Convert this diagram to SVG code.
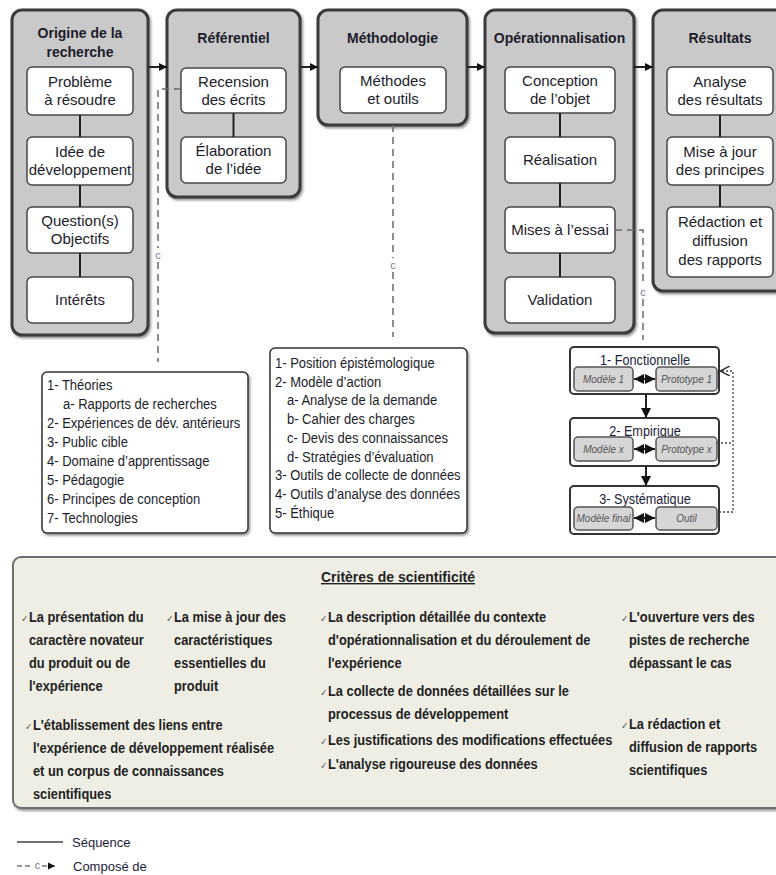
<svg xmlns="http://www.w3.org/2000/svg" width="776" height="875" viewBox="0 0 776 875">
<style>
.t{font-family:"Liberation Sans",Arial,sans-serif;fill:#1c1c2a}
.h{font-size:14px;font-weight:bold;text-anchor:middle}
.b{font-size:15px;text-anchor:middle}
.outer{fill:#c9c9c9;stroke:#3a3a3a;stroke-width:3}
.inner{fill:#fff;stroke:#474747;stroke-width:1.5}
.seq{stroke:#222;stroke-width:2;fill:none}
.comp{stroke:#6a6a6a;stroke-width:1.5;stroke-dasharray:7 5;fill:none}
.c{font-family:"Liberation Sans",Arial,sans-serif;font-size:11px;fill:#77779a;text-anchor:middle}
.list{fill:#fff;stroke:#333;stroke-width:1.5}
.lt{font-family:"Liberation Sans",Arial,sans-serif;font-size:15.3px;fill:#1c1c2a}
.rg{fill:#fff;stroke:#333;stroke-width:2}
.ri{fill:#d6d6d6;stroke:#555;stroke-width:1.5}
.rl{font-family:"Liberation Sans",Arial,sans-serif;font-size:10px;font-style:italic;fill:#555;text-anchor:middle}
.rt{font-family:"Liberation Sans",Arial,sans-serif;font-size:14.9px;fill:#1c1c3a;text-anchor:middle}
.crit{fill:#eeeee4;stroke:#6e6e6e;stroke-width:2}
.ct{font-family:"Liberation Sans",Arial,sans-serif;font-size:15.1px;font-weight:bold;fill:#222}
.ck{font-family:"DejaVu Sans",sans-serif;font-size:10px;fill:#555}
.cth{font-family:"Liberation Sans",Arial,sans-serif;font-size:14px;font-weight:bold;fill:#222;text-anchor:middle;text-decoration:underline}
.lg{font-family:"Liberation Sans",Arial,sans-serif;font-size:13px;fill:#1c1c3a}
</style>
<defs>
<filter id="sh" x="-10%" y="-10%" width="130%" height="130%">
<feDropShadow dx="1.5" dy="2" stdDeviation="1" flood-color="#333" flood-opacity="0.5"/>
</filter>
<marker id="ah" viewBox="0 0 10 10" refX="10" refY="5" markerWidth="4" markerHeight="4" orient="auto-start-reverse">
<path d="M0,0 L10,5 L0,10 z" fill="#111"/>
</marker>
<marker id="ahs" viewBox="0 0 10 10" refX="10" refY="5" markerWidth="5" markerHeight="5" orient="auto-start-reverse">
<path d="M0,0 L10,5 L0,10 z" fill="#111"/>
</marker>
<marker id="aho" viewBox="0 0 10 10" refX="10" refY="5" markerWidth="8" markerHeight="8" orient="auto">
<path d="M0,0 L10,5 L0,10" fill="none" stroke="#333" stroke-width="1.5"/>
</marker>
</defs>

<!-- Top level phases -->
<g id="origine">
<rect class="outer" x="12" y="10" width="136" height="325" rx="10" filter="url(#sh)"/>
<text class="t h" x="80" y="38">Origine de la</text>
<text class="t h" x="80" y="57">recherche</text>
<rect class="inner" x="27" y="67" width="106" height="48" rx="5"/>
<text class="t b" x="80" y="87">Problème</text>
<text class="t b" x="80" y="105">à résoudre</text>
<rect class="inner" x="27" y="137" width="106" height="48" rx="5"/>
<text class="t b" x="80" y="157">Idée de</text>
<text class="t b" x="80" y="175">développement</text>
<rect class="inner" x="27" y="207" width="106" height="46" rx="5"/>
<text class="t b" x="80" y="226">Question(s)</text>
<text class="t b" x="80" y="244">Objectifs</text>
<rect class="inner" x="27" y="277" width="106" height="46" rx="5"/>
<text class="t b" x="80" y="305">Intérêts</text>
</g>

<g id="referentiel">
<rect class="outer" x="167" y="10" width="133" height="187" rx="10" filter="url(#sh)"/>
<text class="t h" x="233.5" y="43">Référentiel</text>
<rect class="inner" x="181" y="68" width="105" height="45" rx="5"/>
<text class="t b" x="233.5" y="87">Recension</text>
<text class="t b" x="233.5" y="105">des écrits</text>
<rect class="inner" x="181" y="137" width="105" height="46" rx="5"/>
<text class="t b" x="233.5" y="156">Élaboration</text>
<text class="t b" x="233.5" y="174">de l’idée</text>
</g>

<g id="methodologie">
<rect class="outer" x="318" y="10" width="149" height="115" rx="10" filter="url(#sh)"/>
<text class="t h" x="392.5" y="43">Méthodologie</text>
<rect class="inner" x="340" y="67" width="106" height="46" rx="5"/>
<text class="t b" x="393" y="86">Méthodes</text>
<text class="t b" x="393" y="104">et outils</text>
</g>

<g id="operationnalisation">
<rect class="outer" x="485" y="10" width="149" height="323" rx="10" filter="url(#sh)"/>
<text class="t h" x="559.5" y="43">Opérationnalisation</text>
<rect class="inner" x="505" y="67" width="110" height="46" rx="5"/>
<text class="t b" x="560" y="86">Conception</text>
<text class="t b" x="560" y="104">de l’objet</text>
<rect class="inner" x="505" y="137" width="110" height="46" rx="5"/>
<text class="t b" x="560" y="165">Réalisation</text>
<rect class="inner" x="505" y="207" width="110" height="46" rx="5"/>
<text class="t b" x="560" y="235">Mises à l’essai</text>
<rect class="inner" x="505" y="277" width="110" height="46" rx="5"/>
<text class="t b" x="560" y="305">Validation</text>
</g>

<g id="resultats">
<rect class="outer" x="653" y="10" width="140" height="281" rx="10" filter="url(#sh)"/>
<text class="t h" x="720" y="43">Résultats</text>
<rect class="inner" x="667" y="67" width="106" height="48" rx="5"/>
<text class="t b" x="720" y="87">Analyse</text>
<text class="t b" x="720" y="105">des résultats</text>
<rect class="inner" x="667" y="137" width="106" height="48" rx="5"/>
<text class="t b" x="720" y="157">Mise à jour</text>
<text class="t b" x="720" y="175">des principes</text>
<rect class="inner" x="667" y="207" width="106" height="70" rx="5"/>
<text class="t b" x="720" y="227">Rédaction et</text>
<text class="t b" x="720" y="246">diffusion</text>
<text class="t b" x="720" y="265">des rapports</text>
</g>

<!-- Detail lists -->
<g id="liste-referentiel">
<rect class="list" x="42" y="372" width="206" height="161" rx="5" filter="url(#sh)"/>
<g transform="scale(0.85 1)">
<text class="lt" x="55.3" y="390">1- Théories</text>
<text class="lt" x="74.1" y="409">a- Rapports de recherches</text>
<text class="lt" x="55.3" y="428">2- Expériences de dév. antérieurs</text>
<text class="lt" x="55.3" y="447">3- Public cible</text>
<text class="lt" x="55.3" y="466">4- Domaine d’apprentissage</text>
<text class="lt" x="55.3" y="485">5- Pédagogie</text>
<text class="lt" x="55.3" y="504">6- Principes de conception</text>
<text class="lt" x="55.3" y="523">7- Technologies</text>
</g>
</g>

<g id="liste-methodologie">
<rect class="list" x="270" y="348" width="197" height="185" rx="5" filter="url(#sh)"/>
<g transform="scale(0.85 1)">
<text class="lt" x="323.5" y="368">1- Position épistémologique</text>
<text class="lt" x="323.5" y="386.7">2- Modèle d’action</text>
<text class="lt" x="337.6" y="405.5">a- Analyse de la demande</text>
<text class="lt" x="337.6" y="424.2">b- Cahier des charges</text>
<text class="lt" x="337.6" y="443">c- Devis des connaissances</text>
<text class="lt" x="337.6" y="461.7">d- Stratégies d’évaluation</text>
<text class="lt" x="323.5" y="480.5">3- Outils de collecte de données</text>
<text class="lt" x="323.5" y="499.2">4- Outils d’analyse des données</text>
<text class="lt" x="323.5" y="518">5- Éthique</text>
</g>
</g>

<!-- Iterations -->
<g id="fonctionnelle">
<rect class="rg" x="570" y="347" width="149" height="47" rx="4"/>
<text class="rt" transform="translate(645 365) scale(0.85 1)">1- Fonctionnelle</text>
<rect class="ri" x="574" y="367" width="59" height="24" rx="4"/>
<text class="rl" x="603.5" y="383">Modèle 1</text>
<rect class="ri" x="656" y="367" width="61" height="24" rx="4"/>
<text class="rl" x="686.5" y="383">Prototype 1</text>
</g>
<g id="empirique">
<rect class="rg" x="570" y="418" width="149" height="48" rx="4"/>
<text class="rt" transform="translate(645 436) scale(0.85 1)">2- Empirique</text>
<rect class="ri" x="574" y="437" width="59" height="24" rx="4"/>
<text class="rl" x="603.5" y="453">Modèle x</text>
<rect class="ri" x="656" y="437" width="61" height="24" rx="4"/>
<text class="rl" x="686.5" y="453">Prototype x</text>
</g>
<g id="systematique">
<rect class="rg" x="570" y="486" width="149" height="48" rx="4"/>
<text class="rt" transform="translate(645 504) scale(0.85 1)">3- Systématique</text>
<rect class="ri" x="574" y="507" width="59" height="23" rx="4"/>
<text class="rl" x="603.5" y="522">Modèle final</text>
<rect class="ri" x="656" y="507" width="61" height="23" rx="4"/>
<text class="rl" x="686.5" y="522">Outil</text>
</g>

<!-- Connectors -->
<g id="connectors">
<line class="seq" x1="148" y1="67" x2="167" y2="67" stroke-width="2.5" marker-end="url(#ah)"/>
<line class="seq" x1="300" y1="67" x2="318" y2="67" stroke-width="2.5" marker-end="url(#ah)"/>
<line class="seq" x1="467" y1="67" x2="485" y2="67" stroke-width="2.5" marker-end="url(#ah)"/>
<line class="seq" x1="634" y1="67" x2="653" y2="67" stroke-width="2.5" marker-end="url(#ah)"/>
<line class="seq" x1="80" y1="115" x2="80" y2="137"/>
<line class="seq" x1="80" y1="185" x2="80" y2="207"/>
<line class="seq" x1="80" y1="253" x2="80" y2="277"/>
<line class="seq" x1="233.5" y1="113" x2="233.5" y2="137"/>
<line class="seq" x1="560" y1="113" x2="560" y2="137"/>
<line class="seq" x1="560" y1="183" x2="560" y2="207"/>
<line class="seq" x1="560" y1="253" x2="560" y2="277"/>
<line class="seq" x1="720" y1="115" x2="720" y2="137"/>
<line class="seq" x1="720" y1="185" x2="720" y2="207"/>
<path class="comp" d="M181,89 H158 V248 M158,262 V362"/>
<text class="c" x="158" y="259">c</text>
<path class="comp" d="M393,125 V258 M393,272 V337"/>
<text class="c" x="393" y="269">c</text>
<path class="comp" d="M615,230 H643 V285 M643,299 V340"/>
<text class="c" x="643" y="296">c</text>
<line class="seq" x1="634" y1="379" x2="655" y2="379" stroke-width="1.5" marker-start="url(#ahs)" marker-end="url(#ahs)"/>
<line class="seq" x1="634" y1="449" x2="655" y2="449" stroke-width="1.5" marker-start="url(#ahs)" marker-end="url(#ahs)"/>
<line class="seq" x1="634" y1="518" x2="655" y2="518" stroke-width="1.5" marker-start="url(#ahs)" marker-end="url(#ahs)"/>
<line class="seq" x1="646" y1="394" x2="646" y2="418" stroke-width="1.5" marker-end="url(#ahs)"/>
<line class="seq" x1="646" y1="466" x2="646" y2="486" stroke-width="1.5" marker-end="url(#ahs)"/>
<path d="M717,443 H733" fill="none" stroke="#444" stroke-width="1.3" stroke-dasharray="2 2"/>
<path d="M719,512 H733 V371 H720" fill="none" stroke="#444" stroke-width="1.3" stroke-dasharray="2 2" marker-end="url(#aho)"/>
</g>

<!-- Criteria -->
<g id="criteres">
<rect class="crit" x="13" y="557" width="790" height="251" rx="8" filter="url(#sh)"/>
<text class="cth" x="398" y="582">Critères de scientificité</text>
<g transform="scale(0.85 1)">
<text class="ck" x="25" y="622">✓</text>
<text class="ct" x="34.1" y="622">La présentation du</text>
<text class="ct" x="34.1" y="645">caractère novateur</text>
<text class="ct" x="34.1" y="668">du produit ou de</text>
<text class="ct" x="34.1" y="691">l'expérience</text>
<text class="ck" x="195.7" y="622">✓</text>
<text class="ct" x="204.7" y="622">La mise à jour des</text>
<text class="ct" x="204.7" y="645">caractéristiques</text>
<text class="ct" x="204.7" y="668">essentielles du</text>
<text class="ct" x="204.7" y="691">produit</text>
<text class="ck" x="29.8" y="730">✓</text>
<text class="ct" x="38.8" y="730">L'établissement des liens entre</text>
<text class="ct" x="38.8" y="753">l'expérience de développement réalisée</text>
<text class="ct" x="38.8" y="776">et un corpus de connaissances</text>
<text class="ct" x="38.8" y="799">scientifiques</text>
<text class="ck" x="376.9" y="622">✓</text>
<text class="ct" x="385.9" y="622">La description détaillée du contexte</text>
<text class="ct" x="385.9" y="645">d'opérationnalisation et du déroulement de</text>
<text class="ct" x="385.9" y="668">l'expérience</text>
<text class="ck" x="376.9" y="696">✓</text>
<text class="ct" x="385.9" y="696">La collecte de données détaillées sur le</text>
<text class="ct" x="385.9" y="719">processus de développement</text>
<text class="ck" x="376.9" y="745">✓</text>
<text class="ct" x="385.9" y="745">Les justifications des modifications effectuées</text>
<text class="ck" x="376.9" y="769">✓</text>
<text class="ct" x="385.9" y="769">L'analyse rigoureuse des données</text>
<text class="ck" x="731" y="622">✓</text>
<text class="ct" x="740" y="622">L'ouverture vers des</text>
<text class="ct" x="740" y="645">pistes de recherche</text>
<text class="ct" x="740" y="668">dépassant le cas</text>
<text class="ck" x="731" y="729">✓</text>
<text class="ct" x="740" y="729">La rédaction et</text>
<text class="ct" x="740" y="752">diffusion de rapports</text>
<text class="ct" x="740" y="775">scientifiques</text>
</g>
</g>

<!-- Legend -->
<g id="legende">
<line x1="17" y1="842" x2="63" y2="842" stroke="#444" stroke-width="1.5"/>
<text class="lg" x="72" y="847">Séquence</text>
<path d="M17,866 H33 M42,866 H55" fill="none" stroke="#777" stroke-width="1.5" stroke-dasharray="5 3" marker-end="url(#ahs)"/>
<text class="c" x="37.5" y="869">c</text>
<text class="lg" x="73" y="871">Composé de</text>
</g>
</svg>
